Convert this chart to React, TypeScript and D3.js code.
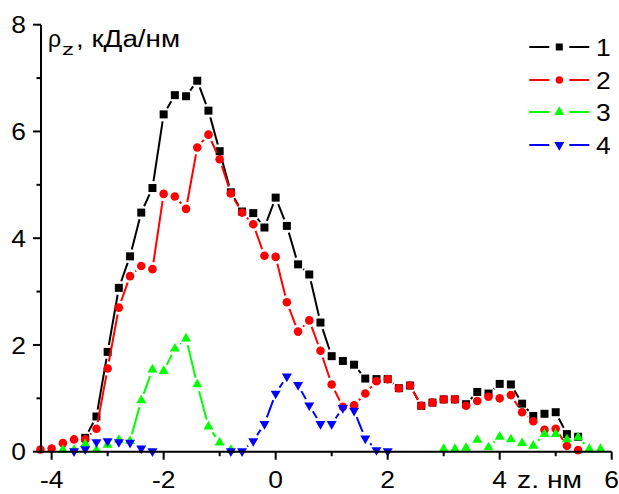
import React from "react";
import * as d3 from "d3";

const zValues = [
  -4.2, -4.0, -3.8, -3.6, -3.4, -3.2, -3.0, -2.8, -2.6, -2.4, -2.2, -2.0, -1.8, -1.6, -1.4, -1.2, -1.0,
  -0.8, -0.6, -0.4, -0.2, 0.0, 0.2, 0.4, 0.6, 0.8, 1.0, 1.2, 1.4, 1.6, 1.8, 2.0, 2.2, 2.4, 2.6, 2.8,
  3.0, 3.2, 3.4, 3.6, 3.8, 4.0, 4.2, 4.4, 4.6, 4.8, 5.0, 5.2, 5.4, 5.6, 5.8,
];

const series1 = [
  null, null, null, null, 0.26, 0.66, 1.87, 3.07, 3.66, 4.48, 4.94, 6.32, 6.68, 6.66, 6.95, 6.39, 5.63,
  4.86, 4.5, 4.47, 4.2, 4.76, 4.23, 3.51, 3.32, 2.42, 1.79, 1.7, 1.63, 1.37, 1.36, 1.36, 1.19, 1.24, 0.86, 0.92,
  0.98, 0.98, 0.89, 1.12, 1.09, 1.27, 1.26, 0.9, 0.67, 0.71, 0.74, 0.33, 0.28, null, null,
];

const series2 = [
  0.04, 0.06, 0.16, 0.23, 0.23, 0.43, 1.56, 2.7, 3.29, 3.48, 3.42, 4.83, 4.78, 4.55, 5.7, 5.94, 5.48,
  4.84, 4.48, 4.26, 3.67, 3.65, 2.8, 2.25, 2.46, 1.89, 1.26, 0.84, 0.87, 1.09, 1.32, 1.36, 1.19, 1.24, 0.86, 0.92,
  0.98, 0.98, 0.86, 0.95, 1.03, 1.0, 1.06, 0.74, 0.57, 0.41, 0.43, 0.11, 0.03, null, null,
];

const series3 = [
  null, null, 0.03, 0.03, 0.14, 0.03, 0.13, 0.22, 0.2, 0.96, 1.54, 1.51, 1.93, 2.12, 1.26, 0.47, 0.17,
  0.03, null, null, null, null, null, null, null, null, null, null, null, null, null, null, null, null, null, null,
  0.05, 0.05, 0.07, 0.22, 0.08, 0.28, 0.23, 0.16, 0.11, 0.33, 0.33, 0.23, 0.27, 0.05, 0.05,
];

const series4 = [
  null, null, null, 0.01, 0.05, 0.18, 0.2, 0.18, 0.17, 0.06, 0.01, null, null, null, null, null, null,
  0.01, 0.01, 0.2, 0.52, 1.09, 1.41, 1.25, 0.87, 0.52, 0.52, 0.82, 0.77, 0.25, 0.03, 0.01, null, null, null, null,
  null, null, null, null, null, null, null, null, null, null, null, null, null, null, null,
];

const seriesNames = ["1", "2", "3", "4"];
const xMajorTicks = [-4, -2, 0, 2, 4, 6];
const xMinorTicks = [-3, -1, 1, 3, 5];
const yMajorTicks = [0, 2, 4, 6, 8];
const yMinorTicks = [1, 3, 5, 7];

const FONT = "Arial, 'Liberation Sans', sans-serif";

type Spec = { data: (number | null)[]; color: string; shape: string; size: number; lsize: number };

const specs: Spec[] = [
  { data: series1, color: "#000000", shape: "square", size: 8, lsize: 7 },
  { data: series2, color: "#ff0000", shape: "circle", size: 8.6, lsize: 7.5 },
  { data: series3, color: "#00ff00", shape: "up", size: 10, lsize: 10 },
  { data: series4, color: "#0000ff", shape: "down", size: 10, lsize: 10 },
];

function markerPath(shape: string, size: number): string {
  if (shape === "square") return d3.symbol(d3.symbolSquare, size * size)() as string;
  if (shape === "circle") return d3.symbol(d3.symbolCircle, Math.PI * (size / 2) * (size / 2))() as string;
  const area = (Math.sqrt(3) / 4) * size * size;
  return d3.symbol(d3.symbolTriangle, area)() as string;
}

const SX = 1.1;

export default function App() {
  const x = d3.scaleLinear().domain([-4.19, 6]).range([41, 611.7]);
  const y = d3.scaleLinear().domain([0, 8]).range([451.7, 24.7]);
  const gap = 7;

  const renderSeries = (s: Spec, si: number) => {
    const pts = zValues.map((z, i) => (s.data[i] == null ? null : [x(z), y(s.data[i] as number)]));
    const segs: JSX.Element[] = [];
    for (let i = 0; i < pts.length - 1; i++) {
      const a = pts[i];
      const b = pts[i + 1];
      if (!a || !b) continue;
      const dx = b[0] - a[0];
      const dy = b[1] - a[1];
      const len = Math.hypot(dx, dy);
      if (len <= 2 * gap) continue;
      const ux = dx / len;
      const uy = dy / len;
      segs.push(
        <line
          key={`s${si}-${i}`}
          x1={a[0] + ux * gap}
          y1={a[1] + uy * gap}
          x2={b[0] - ux * gap}
          y2={b[1] - uy * gap}
          stroke={s.color}
          strokeWidth={2}
        />
      );
    }
    const path = markerPath(s.shape, s.size);
    const marks = pts.map((p, i) =>
      p ? (
        <path
          key={`m${si}-${i}`}
          d={path}
          transform={`translate(${p[0]},${p[1]})${s.shape === "down" ? " rotate(180)" : ""}`}
          fill={s.color}
        />
      ) : null
    );
    return (
      <g key={`series${si}`}>
        {segs}
        {marks}
      </g>
    );
  };

  const legendY = [47, 80, 112, 145];

  return (
    <svg
      width={619}
      height={494}
      style={{ position: "absolute", left: 0, top: 0, background: "#fff" }}
      fontFamily={FONT}
    >
      <rect x={0} y={0} width={619} height={494} fill="#fff" />
      {specs.map((s, i) => renderSeries(s, i))}

      {/* axes */}
      <line x1={41} y1={y(0)} x2={611.7} y2={y(0)} stroke="#000" strokeWidth={2} />
      <line x1={41} y1={y(0) + 1} x2={41} y2={y(8)} stroke="#000" strokeWidth={2} />
      {xMajorTicks.map((t) => (
        <g key={`xt${t}`}>
          <line x1={x(t)} x2={x(t)} y1={y(0)} y2={y(0) + 8} stroke="#000" strokeWidth={2} />
          <text
            transform={`translate(${x(t)},488) scale(${SX},1)`}
            fontSize={24}
            textAnchor="middle"
            fill="#000"
          >
            {t < 0 ? `-${Math.abs(t)}` : `${t}`}
          </text>
        </g>
      ))}
      {xMinorTicks.map((t) => (
        <line key={`xm${t}`} x1={x(t)} x2={x(t)} y1={y(0)} y2={y(0) + 4.5} stroke="#000" strokeWidth={2} />
      ))}
      {yMajorTicks.map((t) => (
        <g key={`yt${t}`}>
          <line x1={41} x2={33} y1={y(t)} y2={y(t)} stroke="#000" strokeWidth={2} />
          <text
            transform={`translate(26,${y(t)}) scale(${SX},1)`}
            dy="0.36em"
            fontSize={24}
            textAnchor="end"
            fill="#000"
          >
            {t}
          </text>
        </g>
      ))}
      {yMinorTicks.map((t) => (
        <line key={`ym${t}`} x1={41} x2={36.5} y1={y(t)} y2={y(t)} stroke="#000" strokeWidth={2} />
      ))}

      {/* axis titles */}
      <text x={48} y={47} fontSize={23} fill="#000">ρ</text>
      <text x={62} y={55} fontSize={17} fill="#000" textLength={12} lengthAdjust="spacingAndGlyphs">z</text>
      <text x={76} y={47} fontSize={23} fill="#000" textLength={104} lengthAdjust="spacingAndGlyphs">
        , кДа/нм
      </text>
      <text x={517} y={488} fontSize={23} fill="#000" textLength={65} lengthAdjust="spacingAndGlyphs">
        z. нм
      </text>

      {/* legend */}
      {specs.map((s, i) => (
        <g key={`lg${i}`}>
          <line x1={529.3} x2={549.3} y1={legendY[i]} y2={legendY[i]} stroke={s.color} strokeWidth={2} />
          <line x1={569.3} x2={589.3} y1={legendY[i]} y2={legendY[i]} stroke={s.color} strokeWidth={2} />
          <path
            d={markerPath(s.shape, s.lsize)}
            transform={`translate(559.3,${legendY[i]})${s.shape === "down" ? " rotate(180)" : ""}`}
            fill={s.color}
          />
          <text
            transform={`translate(596,${legendY[i]}) scale(${SX},1)`}
            dy="0.36em"
            fontSize={24}
            fill="#000"
          >
            {seriesNames[i]}
          </text>
        </g>
      ))}
    </svg>
  );
}
